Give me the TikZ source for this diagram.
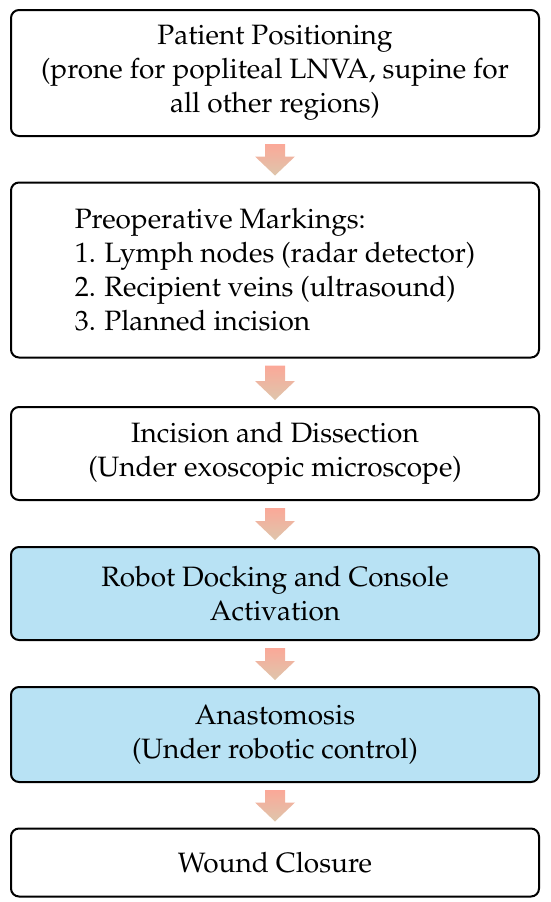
\documentclass[tikz,border=0pt]{standalone}
\usepackage[T1]{fontenc}
\usepackage{mathpazo}
\usepackage{tikz}
\usetikzlibrary{positioning, shadings}

\definecolor{stepblue}{RGB}{184,226,244}
\definecolor{arrowtop}{RGB}{251,168,152}
\definecolor{arrowbottom}{RGB}{222,198,172}

% fat shaded arrow from the bottom of one box to the top of the next
\newcommand{\stepdown}[2]{%
  \shade[blockarrow] ([xshift=-10pt,yshift=-7pt]#1.south) -- ([xshift=-10pt,yshift=25pt]#2.north)
    -- ([xshift=-20pt,yshift=25pt]#2.north) -- ([yshift=6pt]#2.north)
    -- ([xshift=20pt,yshift=25pt]#2.north) -- ([xshift=10pt,yshift=25pt]#2.north)
    -- ([xshift=10pt,yshift=-7pt]#1.south) -- cycle;}

\begin{document}
\begin{tikzpicture}[
    x=1pt, y=-1pt,
    box/.style={draw=black, line width=2pt, rounded corners=8pt, align=center,
        minimum width=528pt, inner sep=0pt, font=\fontsize{28}{34}\selectfont},
    plainbox/.style={box, fill=white},
    robotbox/.style={box, fill=stepblue},
    blockarrow/.style={top color=arrowtop, bottom color=arrowbottom, draw=none}
]
    \useasboundingbox (0,0) rectangle (550,902);

    % Steps of the procedure, top to bottom.
    \node[plainbox, minimum height=126pt] (position) at (275, 73)
        {Patient Positioning\\(prone for popliteal LNVA, supine for\\all other regions)};
    \node[plainbox, minimum height=175pt, align=left] (marking) at (275, 270)
        {Preoperative Markings:\\1. Lymph nodes (radar detector)\\2. Recipient veins (ultrasound)\\3. Planned incision};
    \node[plainbox, minimum height=93pt] (incision) at (275, 453.5)
        {Incision and Dissection\\(Under exoscopic microscope)};
    \node[robotbox, minimum height=93pt] (docking) at (275, 593.5)
        {Robot Docking and Console\\Activation};
    \node[robotbox, minimum height=95pt] (anastomosis) at (275, 734.5)
        {Anastomosis\\(Under robotic control)};
    \node[plainbox, minimum height=68pt] (closure) at (275, 862.5)
        {Wound Closure};

    \stepdown{position}{marking}
    \stepdown{marking}{incision}
    \stepdown{incision}{docking}
    \stepdown{docking}{anastomosis}
    \stepdown{anastomosis}{closure}

\end{tikzpicture}
\end{document}
